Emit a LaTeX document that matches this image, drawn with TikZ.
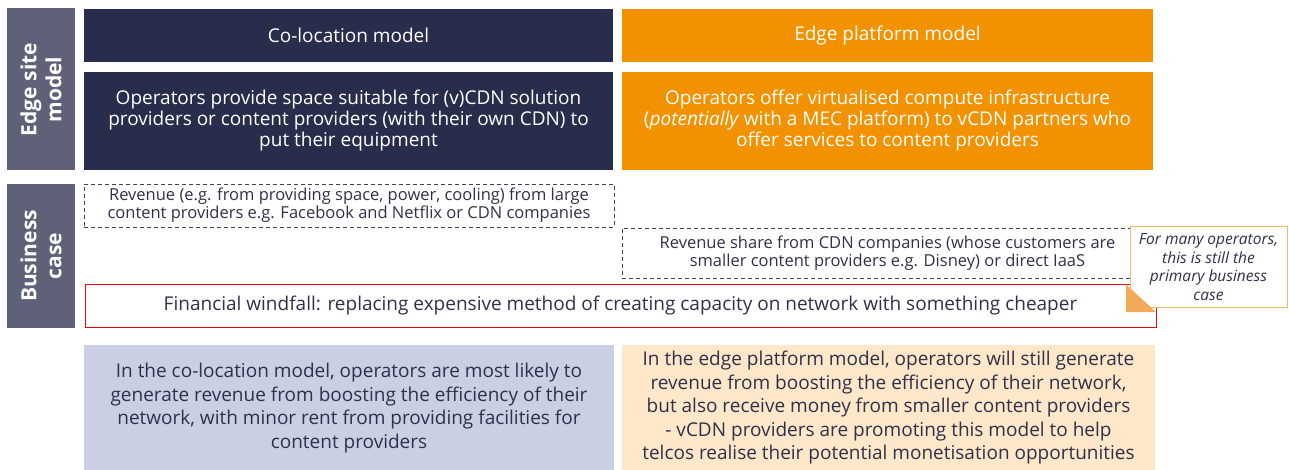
\documentclass[tikz,border=0pt]{standalone}
\usepackage{fontspec}
\setmainfont{Open Sans}
\definecolor{navy}{HTML}{282D4B}
\definecolor{orng}{HTML}{F39200}
\definecolor{slate}{HTML}{5E6177}
\definecolor{lav}{HTML}{CBCFE4}
\definecolor{peach}{HTML}{FFE7C9}
\definecolor{ink}{HTML}{2E3149}
\definecolor{redl}{HTML}{E30613}
\definecolor{callline}{HTML}{F6B76B}
\definecolor{calltail}{HTML}{F2AA58}
\definecolor{dashc}{HTML}{3E4259}
\tikzset{
  panel/.style={inner sep=0pt, outer sep=0pt, align=center},
  sidelabel/.style={panel, fill=slate, text=white, font=\fontsize{21}{25}\selectfont\bfseries},
  headbox/.style={panel, text=white, font=\fontsize{19}{21}\selectfont},
  bodybox/.style={panel, text=white, font=\fontsize{19}{21}\selectfont},
  dashbox/.style={panel, draw=dashc, line width=0.9pt, dash pattern=on 4pt off 3pt, text=ink, font=\fontsize{16.5}{18}\selectfont},
  notebox/.style={panel, text=ink, font=\fontsize{19}{23.5}\selectfont},
}
\begin{document}
\begin{tikzpicture}[x=1pt,y=-1pt]
\useasboundingbox (0,0) rectangle (1289,470);

% row labels
\node[sidelabel, minimum width=162, minimum height=68, rotate=90] (edgelbl) at (41,89.5) {Edge site\\model};
\node[sidelabel, minimum width=144, minimum height=68, rotate=90] (buslbl) at (41,256) {Business\\case};

% model headers
\node[headbox, fill=navy, minimum width=529, minimum height=53] (colhead) at (348.5,35.5) {Co-location model};
\node[headbox, fill=orng, minimum width=531, minimum height=53] (edghead) at (887.5,35.5) {Edge platform model};

% model descriptions
\node[bodybox, fill=navy, minimum width=529, minimum height=98] (colbody) at (348.5,121) {Operators provide space suitable for (v)CDN solution\\providers or content providers (with their own CDN) to\\put their equipment};
\node[bodybox, fill=orng, minimum width=531, minimum height=98] (edgbody) at (887.5,121) {Operators offer virtualised compute infrastructure\\(\textit{potentially} with a MEC platform) to vCDN partners who\\offer services to content providers};

% revenue sources
\node[dashbox, minimum width=530, minimum height=43] (colrev) at (349,205.5) {Revenue (e.g. from providing space, power, cooling) from large\\content providers e.g. Facebook and Netflix or CDN companies};
\node[dashbox, minimum width=531, minimum height=50] (edgrev) at (887.5,253) {Revenue share from CDN companies (whose customers are\\smaller content providers e.g. Disney) or direct IaaS};

% shared benefit
\node[panel, draw=redl, line width=0.9pt, fill=white, minimum width=1071, minimum height=43, text=ink, font=\fontsize{19}{21}\selectfont] (windfall) at (620.5,306) {Financial windfall: replacing expensive method of creating capacity on network with something cheaper};

% callout
\node[panel, draw=callline, line width=1pt, fill=white, minimum width=157, minimum height=80, text=ink, font=\fontsize{15.5}{18.7}\selectfont\itshape] (callout) at (1208.5,267) {For many operators,\\this is still the\\primary business\\case};
\fill[calltail] (callout.south west |- windfall.north) ++(-4,0) coordinate (tailtop) -- (tailtop |- 0,312) coordinate (tailbase) -- ++(30,0) coordinate (tailtip) -- cycle;

% summaries
\node[notebox, fill=lav, minimum width=530, minimum height=126] (colnote) at (349,408) {In the co-location model, operators are most likely to\\generate revenue from boosting the efficiency of their\\network, with minor rent from providing facilities for\\content providers};
\node[notebox, fill=peach, minimum width=533, minimum height=126] (edgnote) at (888.5,408) {In the edge platform model, operators will still generate\\revenue from boosting the efficiency of their network,\\but also receive money from smaller content providers\\- vCDN providers are promoting this model to help\\telcos realise their potential monetisation opportunities};
\end{tikzpicture}
\end{document}
